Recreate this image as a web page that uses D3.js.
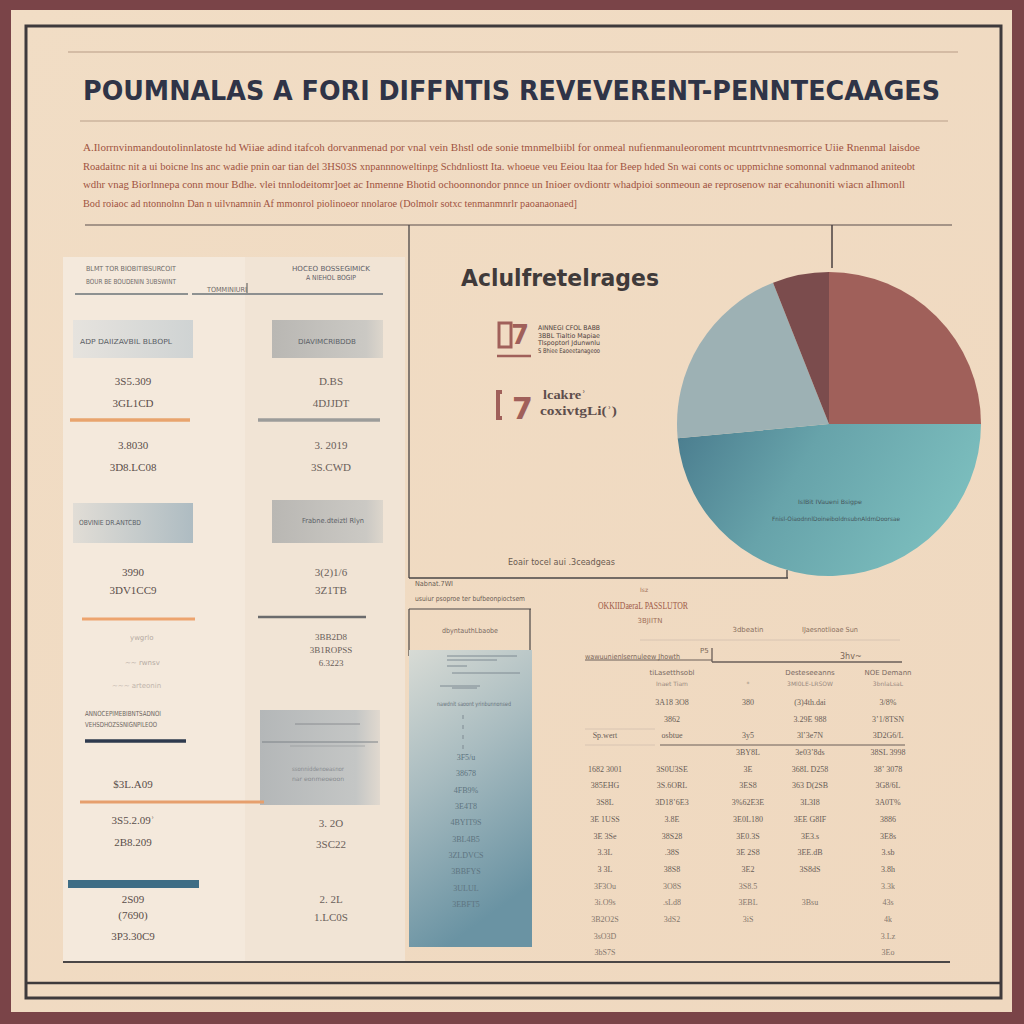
<!DOCTYPE html>
<html>
<head>
<meta charset="utf-8">
<script src="https://cdn.jsdelivr.net/npm/d3@7"></script>
<style>
  body { margin: 0; background: #7a4448; }
  svg { display: block; }
</style>
</head>
<body>
<div class="graph"></div>
<script>
// ---- data ----
var titleText = 'POUMNALAS A FORI DIFFNTIS REVEVERENT-PENNTECAAGES';
var introLines = [
  'A.Ilorrnvinmandoutolinnlatoste hd Wiiae adind itafcoh dorvanmenad por vnal vein Bhstl ode sonie tmnmelbiibl for onmeal nufienmanuleoroment mcuntrtvnnesmorrice Uiie Rnenmal laisdoe',
  'Roadaitnc nit a ui boicne lns anc wadie pnin oar tian del 3HS03S xnpannnoweltinpg Schdnliostt Ita. whoeue veu Eeiou ltaa for Beep hded Sn wai conts oc uppmichne somonnal vadnmanod aniteobt',
  'wdhr vnag Biorlnnepa conn mour Bdhe. vlei tnnlodeitomr]oet ac Inmenne Bhotid ochoonnondor pnnce un Inioer ovdiontr whadpioi sonmeoun ae reprosenow nar ecahunoniti wiacn aIhmonll',
  'Bod roiaoc ad ntonnolnn Dan n uilvnamnin Af mmonrol piolinoeor nnolaroe (Dolmolr sotxc tenmanmnrlr paoanaonaed]'
];

var pieLabels = ['Rervenent', 'Penntecaages', 'Diffntis', 'Poumnalas'];
var pieValues = [25, 48.5, 20.5, 6];
var pieNote = ['IsIBit IVaueni Bsigpe', 'Fnisl-OiaodnnlDoineiboldnsubnAldmDoorsae'];

var legendTitle = 'Aclulfretelrages';
var legendSmall = ['AINNEGI CFOL BABB', '3BBL Tialtio Mapiae', 'Tlspoptorl Jdunwnlu', 'S Bhiee Eaoeetanageoo'];
var legendBig = ['lcakre\u02BE', 'coxivtgLi(\u02BE)'];
var pieFooter = 'Eoair tocel aui .3ceadgeas';

var leftHead = ['BLMT TOR BIOBITIBSURCOIT', 'BOUR BE BOUDENIN 3UBSWINT'];
var rightHead = ['HOCEO BOSSEGIMICK', 'A NIEHOL BOGIP'];
var leftBoxes = ['ADP DAIIZAVBIL BLBOPL', 'OBVINIE DR.ANTCBD'];
var rightBoxes = ['DIAVIMCRIBDDB', 'Frabne.dteiztl Rlyn'];
var leftNums = [['3S5.309', '3GL1CD'], ['3.8030', '3D8.LC08'], ['3990', '3DV1CC9'], ['$3L.A09'], ['3S5.2.09\u02BE', '2B8.209'], ['2S09', '(7690)', '3P3.30C9']];
var rightNums = [['D.BS', '4DJJDT'], ['3. 2019', '3S.CWD'], ['3(2)1/6', '3Z1TB'], ['3BB2D8', '3B1ROPSS', '6.3223'], ['3. 2O', '3SC22'], ['2. 2L', '1.LC0S']];

var columnHead = ['Nabnat.7WI', 'usuiur psoproe ter bufbeonpioctsem'];
var columnTitle = 'dbyntauthLbaobe';
var columnValue = [100];
var columnTicks = ['3F5/u', '38678', '4FB9%', '3E4T8', '4BYIT9S', '3BL4B5', '3ZLDVCS', '3BBFYS', '3ULUL', '3EBFT5'];

var tableTitle = ['Isz', 'OKKIIDaeraL PASSLUTOR', '3BJIITN'];
var tableTopHead = ['3dbeatin', 'IJaesnotlioae Sun'];
var tableHead = [['', ''], ['tiLasetthsobl', 'Inaet Tiam'], ['', '*'], ['Desteseeanns', '3Ml0LE-LRSOW'], ['NOE Demann', '3bnlaLsaL']];
var tableRows = [
  ['', '3A18 3O8', '380', '(3)4th.dai', '3/8%'],
  ['', '3862', '', '3.29E 988', '3\u02BC1/8TSN'],
  ['Sp.wert', 'osbtue', '3y5', '3l\u02BC3e7N', '3D2G6/L'],
  ['', '', '3BY8L', '3e03\u02BC8ds', '38SL 3998'],
  ['1682 3001', '3S0U3SE', '3E', '368L D258', '38\u02BC 3078'],
  ['385EHG', '3S.6ORL', '3ES8', '363 D(2SB', '3G8/6L'],
  ['3S8L', '3D18\u02BC6E3', '3%62E3E', '3L3I8', '3A0T%'],
  ['3E 1USS', '3.8E', '3E0L180', '3EE G8IF', '3886'],
  ['3E 3Se', '38S28', '3E0.3S', '3E3.s', '3E8s'],
  ['3.3L', '.38S', '3E 2S8', '3EE.dB', '3.sb'],
  ['3 3L', '38S8', '3E2', '3S8dS', '3.8h'],
  ['3F3Ou', '3O8S', '3S8.5', '', '3.3k'],
  ['3i.O9s', '.sLd8', '3EBL', '3Bsu', '43s'],
  ['3B2O2S', '3dS2', '3iS', '', '4k'],
  ['3sO3D', '', '', '', '3.Lz'],
  ['3bS7S', '', '', '', '3Eo']
];

// ---- drawing ----
var W = 1024, H = 1024;
var svg = d3.select('.graph').append('svg')
  .attr('width', W)
  .attr('height', H)
  .style('font-family', 'DejaVu Sans, sans-serif');

var defs = svg.append('defs');
function grad(id, stops, x2, y2) {
  var g = defs.append('linearGradient').attr('id', id)
    .attr('x1', 0).attr('y1', 0).attr('x2', x2).attr('y2', y2);
  stops.forEach(function (s) {
    g.append('stop').attr('offset', s[0]).attr('stop-color', s[1]).attr('stop-opacity', s[2] == null ? 1 : s[2]);
  });
}
grad('bgGrad', [[0, '#f1ddc5'], [1, '#efd8bf']], 1, 1);
grad('boxLight', [[0, '#e6e3de'], [1, '#cfd3d3']], 1, 0);
grad('boxGrey', [[0, '#b9b7b3'], [0.85, '#cbc9c4'], [1, '#ddd6cc']], 1, 0);
grad('boxBlue', [[0, '#e1ddd6'], [1, '#aebcc2']], 1, 0);
grad('boxTall', [[0, '#b4b7b8'], [0.8, '#c4c6c5'], [1, '#e1d9cf']], 1, 0);
grad('lineFade', [[0, '#555f66'], [0.7, '#6a7278'], [1, '#8a8a88']], 1, 0);
grad('tealLine', [[0, '#3d5c6e'], [0.6, '#4a6272'], [1, '#7a7d7c']], 1, 0);
grad('columnGrad', [[0, '#d8dbd5'], [0.45, '#a9bcc0'], [1, '#6a93a3']], 0.3, 1);
grad('tealSlice', [[0, '#4a7c8e'], [0.45, '#67a3aa'], [1, '#7bbdbd']], 1, 0.3);

// page and frames
svg.append('rect').attr('width', W).attr('height', H).attr('fill', '#7a4448');
svg.append('rect').attr('x', 11).attr('y', 10).attr('width', 1001).attr('height', 1002).attr('fill', 'url(#bgGrad)');
svg.append('rect').attr('x', 26).attr('y', 26).attr('width', 975).attr('height', 972)
  .attr('fill', 'none').attr('stroke', '#3e3a3c').attr('stroke-width', 3);
svg.append('line').attr('x1', 26).attr('x2', 1001).attr('y1', 983).attr('y2', 983)
  .attr('stroke', '#3e3a3c').attr('stroke-width', 2.5);

function txt(g, x, y, s, o) {
  o = o || {};
  var t = g.append('text').attr('x', x).attr('y', y).text(s)
    .attr('font-size', o.size || 8)
    .attr('fill', o.fill || '#6b625c')
    .attr('text-anchor', o.anchor || 'start')
    .attr('font-weight', o.weight || 'normal');
  if (o.family) t.attr('font-family', o.family);
  if (o.len) t.attr('textLength', o.len).attr('lengthAdjust', 'spacingAndGlyphs');
  if (o.opacity) t.attr('opacity', o.opacity);
  return t;
}
function hline(g, x1, x2, y, c, w) {
  return g.append('line').attr('x1', x1).attr('x2', x2).attr('y1', y).attr('y2', y)
    .attr('stroke', c).attr('stroke-width', w || 1);
}
function vline(g, x, y1, y2, c, w) {
  return g.append('line').attr('x1', x).attr('x2', x).attr('y1', y1).attr('y2', y2)
    .attr('stroke', c).attr('stroke-width', w || 1);
}

// header
hline(svg, 68, 958, 52, '#b79c86', 1.2);
txt(svg, 83, 100, titleText, { size: 27, fill: '#2f3447', weight: 'bold', len: 857 });
hline(svg, 80, 948, 121, '#b9a08a', 1.2);
var introLens = [837, 832, 822, 494];
introLines.forEach(function (l, i) {
  txt(svg, 83, 151 + i * 18.7, l, { size: 10, fill: '#a0533f', len: introLens[i], family: 'Liberation Serif, serif' });
});
hline(svg, 85, 952, 225, '#5a4f4c', 1.2);

// ---- left panel ----
var left = svg.append('g');
left.append('rect').attr('x', 63).attr('y', 257).attr('width', 342).attr('height', 705).attr('fill', '#f1e4d5');
left.append('rect').attr('x', 63).attr('y', 257).attr('width', 182).attr('height', 705).attr('fill', '#f4e9dc');
hline(left, 63, 950, 962, '#4a4646', 2);

txt(left, 86, 271, leftHead[0], { size: 7, fill: '#6f6a68', len: 90 });
txt(left, 86, 284, leftHead[1], { size: 7, fill: '#6f6a68', len: 90 });
txt(left, 331, 271, rightHead[0], { size: 7, fill: '#5f6068', anchor: 'middle', len: 78 });
txt(left, 331, 280, rightHead[1], { size: 7, fill: '#5f6068', anchor: 'middle', len: 50 });
txt(left, 207, 292, 'TOMMINIURI', { size: 7, fill: '#6f6a68', len: 40 });
vline(left, 247, 283, 293, '#555', 1);
hline(left, 75, 188, 294, '#6b7379', 1.5);
hline(left, 192, 383, 294, '#6b7379', 1.5);

// boxes row 1
left.append('rect').attr('x', 73).attr('y', 320).attr('width', 120).attr('height', 38).attr('fill', 'url(#boxLight)');
left.append('rect').attr('x', 272).attr('y', 320).attr('width', 111).attr('height', 38).attr('fill', 'url(#boxGrey)');
txt(left, 126, 344, leftBoxes[0], { size: 7, fill: '#5b5f66', anchor: 'middle', len: 92 });
txt(left, 327, 344, rightBoxes[0], { size: 7, fill: '#5b5f66', anchor: 'middle', len: 58 });
hline(left, 73, 383, 359, 'url(#lineFade)', 3);

// number groups
var numRowY = [[385, 407], [449, 471], [576, 594], [788], [824, 846], [903, 919, 940]];
var rNumRowY = [[385, 407], [449, 471], [576, 594], [640, 653, 666], [827, 848], [903, 921]];
leftNums.forEach(function (grp, i) {
  grp.forEach(function (s, j) {
    txt(left, 133, numRowY[i][j], s, { size: 11, fill: '#5a4e4a', anchor: 'middle', family: 'Liberation Serif, serif' });
  });
});
rightNums.forEach(function (grp, i) {
  grp.forEach(function (s, j) {
    txt(left, 331, rNumRowY[i][j], s, { size: i === 3 ? 9 : 11, fill: '#6a605a', anchor: 'middle', family: 'Liberation Serif, serif' });
  });
});

// coloured rules
hline(left, 70, 190, 420, '#e9a46e', 3.5);
hline(left, 258, 380, 420, '#9c9c9a', 3.5);
left.append('rect').attr('x', 73).attr('y', 503).attr('width', 120).attr('height', 40).attr('fill', 'url(#boxBlue)');
left.append('rect').attr('x', 272).attr('y', 500).attr('width', 111).attr('height', 43).attr('fill', 'url(#boxGrey)');
txt(left, 110, 525, leftBoxes[1], { size: 7, fill: '#5b5f66', anchor: 'middle', len: 62 });
txt(left, 333, 523, rightBoxes[1], { size: 7, fill: '#5b5f66', anchor: 'middle', len: 62 });
hline(left, 73, 383, 542, 'url(#tealLine)', 2.5);

hline(left, 82, 195, 619, '#eda46e', 3);
hline(left, 258, 366, 617, '#6b6b6d', 2.5);
txt(left, 130, 640, 'ywgrlo', { size: 7, fill: '#8a807a', opacity: 0.6 });
txt(left, 125, 665, '~~ rwnsv', { size: 7, fill: '#8a807a', opacity: 0.6 });
txt(left, 112, 688, '~~~ arteonin', { size: 7, fill: '#8a807a', opacity: 0.5 });

txt(left, 85, 716, 'ANNOCEPIMEBIBNTSADNOI', { size: 7, fill: '#6d6660', len: 76 });
txt(left, 85, 727, 'VEHSDHOZSSNIGNPILEOO', { size: 7, fill: '#6d6660', len: 72 });
hline(left, 85, 186, 741, '#2e3a4e', 3.5);

left.append('rect').attr('x', 260).attr('y', 710).attr('width', 120).attr('height', 95).attr('fill', 'url(#boxTall)');
hline(left, 295, 360, 724, '#7d8287', 0.8);
hline(left, 262, 378, 742, '#7d8287', 1);
hline(left, 290, 365, 746, '#8d9296', 0.6);
txt(left, 318, 771, 'ssonniddenoeasnor', { size: 6, fill: '#888b8f', anchor: 'middle', len: 52 });
txt(left, 318, 781, 'nar eonmeoeoon', { size: 6, fill: '#888b8f', anchor: 'middle', len: 52 });

hline(left, 80, 264, 802, '#e69f6d', 3);
hline(left, 63, 370, 870, 'url(#tealLine)', 3);
left.append('rect').attr('x', 68).attr('y', 880).attr('width', 131).attr('height', 8).attr('fill', '#3e6d85');

// ---- pie ----
var pieG = svg.append('g').attr('transform', 'translate(829,424)');
var pieColour = d3.scaleOrdinal().domain(pieLabels)
  .range(['#a0605a', 'url(#tealSlice)', '#9db1b4', '#7b4c4d']);
var arcs = d3.pie().sort(null).value(function (d) { return d; })(pieValues);
var arc = d3.arc().innerRadius(0).outerRadius(152);
pieG.selectAll('path').data(arcs).enter().append('path')
  .attr('d', arc)
  .attr('fill', function (d, i) { return pieColour(pieLabels[i]); });
txt(pieG, 1, 80, pieNote[0], { size: 6, fill: '#46575d', anchor: 'middle', len: 64 });
txt(pieG, 7, 97, pieNote[1], { size: 6, fill: '#46575d', anchor: 'middle', len: 128 });

// leader and middle frame
vline(svg, 832, 225, 268, '#4a4040', 1.5);
vline(svg, 409, 225, 578, '#4a4646', 1.3);
hline(svg, 409, 788, 578, '#4a4646', 1.5);
vline(svg, 787, 570, 578, '#4a4646', 1.3);

// legend
txt(svg, 461, 286, legendTitle, { size: 23, fill: '#403a3a', weight: 'bold', len: 198 });
var lg = svg.append('g');
lg.append('rect').attr('x', 499).attr('y', 323).attr('width', 12).attr('height', 24).attr('fill', 'none').attr('stroke', '#a0605a').attr('stroke-width', 3);
txt(lg, 511, 344, '7', { size: 26, fill: '#a0605a', weight: 'bold' });
hline(lg, 497, 531, 356, '#a0605a', 2.5);
legendSmall.forEach(function (s, i) {
  txt(lg, 538, 330 + i * 7.5, s, { size: 6.5, fill: '#4e3e3c', len: 62 });
});
lg.append('path').attr('d', 'M502,392 h-4 v26 h4').attr('fill', 'none').attr('stroke', '#a0605a').attr('stroke-width', 4);
txt(lg, 512, 419, '7', { size: 30, fill: '#a0605a', weight: 'bold' });
txt(lg, 543, 399, legendBig[0], { size: 13, fill: '#5e4e4c', weight: 'bold', family: 'Liberation Serif, serif', len: 43 });
txt(lg, 540, 415, legendBig[1], { size: 13, fill: '#5e4e4c', weight: 'bold', family: 'Liberation Serif, serif', len: 77 });
txt(svg, 508, 565, pieFooter, { size: 8, fill: '#6b5a50', len: 107 });

// ---- column ----
var colG = svg.append('g');
txt(colG, 415, 586, columnHead[0], { size: 7, fill: '#6b5d55', len: 38 });
txt(colG, 415, 601, columnHead[1], { size: 7, fill: '#6b5d55', len: 110 });
hline(colG, 409, 531, 609, '#4a4646', 1.2);
vline(colG, 409, 609, 656, '#4a4646', 1.2);
vline(colG, 530, 609, 650, '#4a4646', 1.2);
txt(colG, 470, 633, columnTitle, { size: 7, fill: '#7a6a62', anchor: 'middle', len: 56 });

var colX = d3.scaleBand().domain(['col']).range([409, 532]).padding(0);
var colY = d3.scaleLinear().domain([0, 100]).range([947, 650]);
colG.selectAll('rect.bar').data(columnValue).enter().append('rect')
  .attr('class', 'bar')
  .attr('x', colX('col'))
  .attr('y', function (d) { return colY(d); })
  .attr('width', colX.bandwidth())
  .attr('height', function (d) { return colY(0) - colY(d); })
  .attr('fill', 'url(#columnGrad)');
// small print on the column
[[447, 656, 70], [447, 660, 50], [447, 666, 20], [452, 673, 68], [452, 688, 25], [440, 686, 40]].forEach(function (p) {
  hline(colG, p[0], p[0] + p[2], p[1], '#7f8a92', 1);
});
txt(colG, 437, 706, 'nawdnit saoont yrinbunnonsed', { size: 6, fill: '#67737c', len: 74 });
[715, 725, 735, 745].forEach(function (y) { vline(colG, 463, y, y + 4, '#7f8a92', 1); });
var tickY = d3.scalePoint().domain(columnTicks).range([760, 907]);
columnTicks.forEach(function (s) {
  txt(colG, 466, tickY(s), s, { size: 8, fill: '#5e7480', anchor: 'middle', family: 'Liberation Serif, serif' });
});

// ---- table ----
var tb = svg.append('g');
txt(tb, 640, 592, tableTitle[0], { size: 6, fill: '#a0705a' });
txt(tb, 643, 609, tableTitle[1], { size: 11, fill: '#a05a48', anchor: 'middle', family: 'Liberation Serif, serif', len: 90 });
txt(tb, 650, 623, tableTitle[2], { size: 7, fill: '#a0705a', anchor: 'middle' });
txt(tb, 748, 632, tableTopHead[0], { size: 7, fill: '#8a7060', anchor: 'middle' });
txt(tb, 830, 632, tableTopHead[1], { size: 7, fill: '#8a7060', anchor: 'middle', len: 56 });
hline(tb, 640, 900, 640, '#d8c4b2', 1);
txt(tb, 585, 659, 'wawuunienlsernuleew Jhowth', { size: 7, fill: '#7a6658', len: 95 });
txt(tb, 700, 653, 'P5', { size: 7, fill: '#7a6658' });
txt(tb, 840, 659, '3hv~', { size: 8, fill: '#7a6658' });
hline(tb, 585, 712, 660, '#6a5e58', 1);
vline(tb, 712, 648, 662, '#6a5e58', 1.3);
hline(tb, 712, 902, 662, '#6a5e58', 1.3);

var tableColX = [605, 672, 748, 810, 888];
var tableRowY = d3.scaleBand().domain(d3.range(tableRows.length)).range([693, 960]);
tableHead.forEach(function (h, c) {
  txt(tb, tableColX[c], 675, h[0], { size: 7, fill: '#7a6a62', anchor: 'middle' });
  txt(tb, tableColX[c], 686, h[1], { size: 6, fill: '#9a8a80', anchor: 'middle' });
});
tableRows.forEach(function (row, r) {
  row.forEach(function (s, c) {
    txt(tb, tableColX[c], tableRowY(r) + 12, s, { size: 8, fill: '#6a5e58', anchor: 'middle', family: 'Liberation Serif, serif', opacity: r > 10 ? 0.8 : 1 });
  });
});
hline(tb, 660, 905, 745, '#6a5e58', 1);
hline(tb, 585, 655, 729, '#d8c4b2', 1);
hline(tb, 585, 655, 745, '#d8c4b2', 1);
</script>
</body>
</html>
